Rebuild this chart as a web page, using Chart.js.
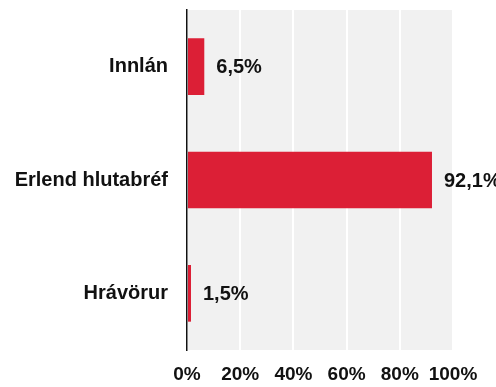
<!DOCTYPE html>
<html>
<head>
<meta charset="utf-8">
<script src="https://cdn.jsdelivr.net/npm/chart.js@4/dist/chart.umd.min.js"></script>
<style>
  html, body { margin: 0; padding: 0; background: #fff; }
  #wrap { width: 496px; height: 387px; position: relative; }
</style>
</head>
<body>
<div id="wrap"><canvas id="chart"></canvas></div>
<script>
const categories = ["Innlán", "Erlend hlutabréf", "Hrávörur"];
const shares = [6.5, 92.1, 1.5];
const xTicks = [0, 20, 40, 60, 80, 100];

const FONT = "'Liberation Sans', Arial, sans-serif";
const fmt = v => v.toFixed(1).replace(".", ",") + "%";

// gray plot background behind the grid
const plotBg = {
  id: "plotBg",
  beforeDraw(chart) {
    const { ctx, chartArea: a } = chart;
    ctx.save();
    ctx.fillStyle = "#f1f1f1";
    ctx.fillRect(a.left, a.top, a.right - a.left, a.bottom - a.top);
    ctx.restore();
  }
};

// value labels to the right of each bar
const valueLabels = {
  id: "valueLabels",
  afterDatasetsDraw(chart) {
    const { ctx } = chart;
    const meta = chart.getDatasetMeta(0);
    ctx.save();
    ctx.font = "bold 20px " + FONT;
    ctx.fillStyle = "#111";
    ctx.textBaseline = "middle";
    ctx.textAlign = "left";
    meta.data.forEach((bar, i) => {
      ctx.fillText(fmt(shares[i]), bar.x + 12, bar.y + 1);
    });
    ctx.restore();
  }
};

new Chart(document.getElementById("chart"), {
  type: "bar",
  data: {
    labels: categories,
    datasets: [{
      data: shares,
      backgroundColor: "#dc1f36",
      borderWidth: 0,
      barPercentage: 1,
      categoryPercentage: 0.5
    }]
  },
  options: {
    indexAxis: "y",
    responsive: true,
    maintainAspectRatio: false,
    animation: false,
    layout: { padding: { left: 0, right: 43, top: 10, bottom: 0 } },
    plugins: {
      legend: { display: false },
      tooltip: { enabled: false }
    },
    scales: {
      x: {
        min: 0,
        max: 100,
        afterBuildTicks: axis => { axis.ticks = xTicks.map(v => ({ value: v })); },
        afterFit: axis => { axis.height = 37; },
        grid: { color: "#ffffff", lineWidth: 2, drawTicks: false },
        border: { display: false },
        ticks: {
          padding: 13,
          maxRotation: 0,
          minRotation: 0,
          autoSkip: false,
          color: "#111",
          font: { family: FONT, size: 19, weight: "bold" },
          callback: v => v + "%"
        }
      },
      y: {
        afterFit: axis => {
          axis.width = 187;
          axis.paddingTop = 0;
          axis.paddingBottom = 0;
        },
        grid: { display: false, drawTicks: false },
        border: { display: true, color: "#111", width: 1.5 },
        ticks: {
          padding: 19,
          color: "#111",
          font: { family: FONT, size: 20, weight: "bold" }
        }
      }
    }
  },
  plugins: [plotBg, valueLabels]
});
</script>
</body>
</html>
